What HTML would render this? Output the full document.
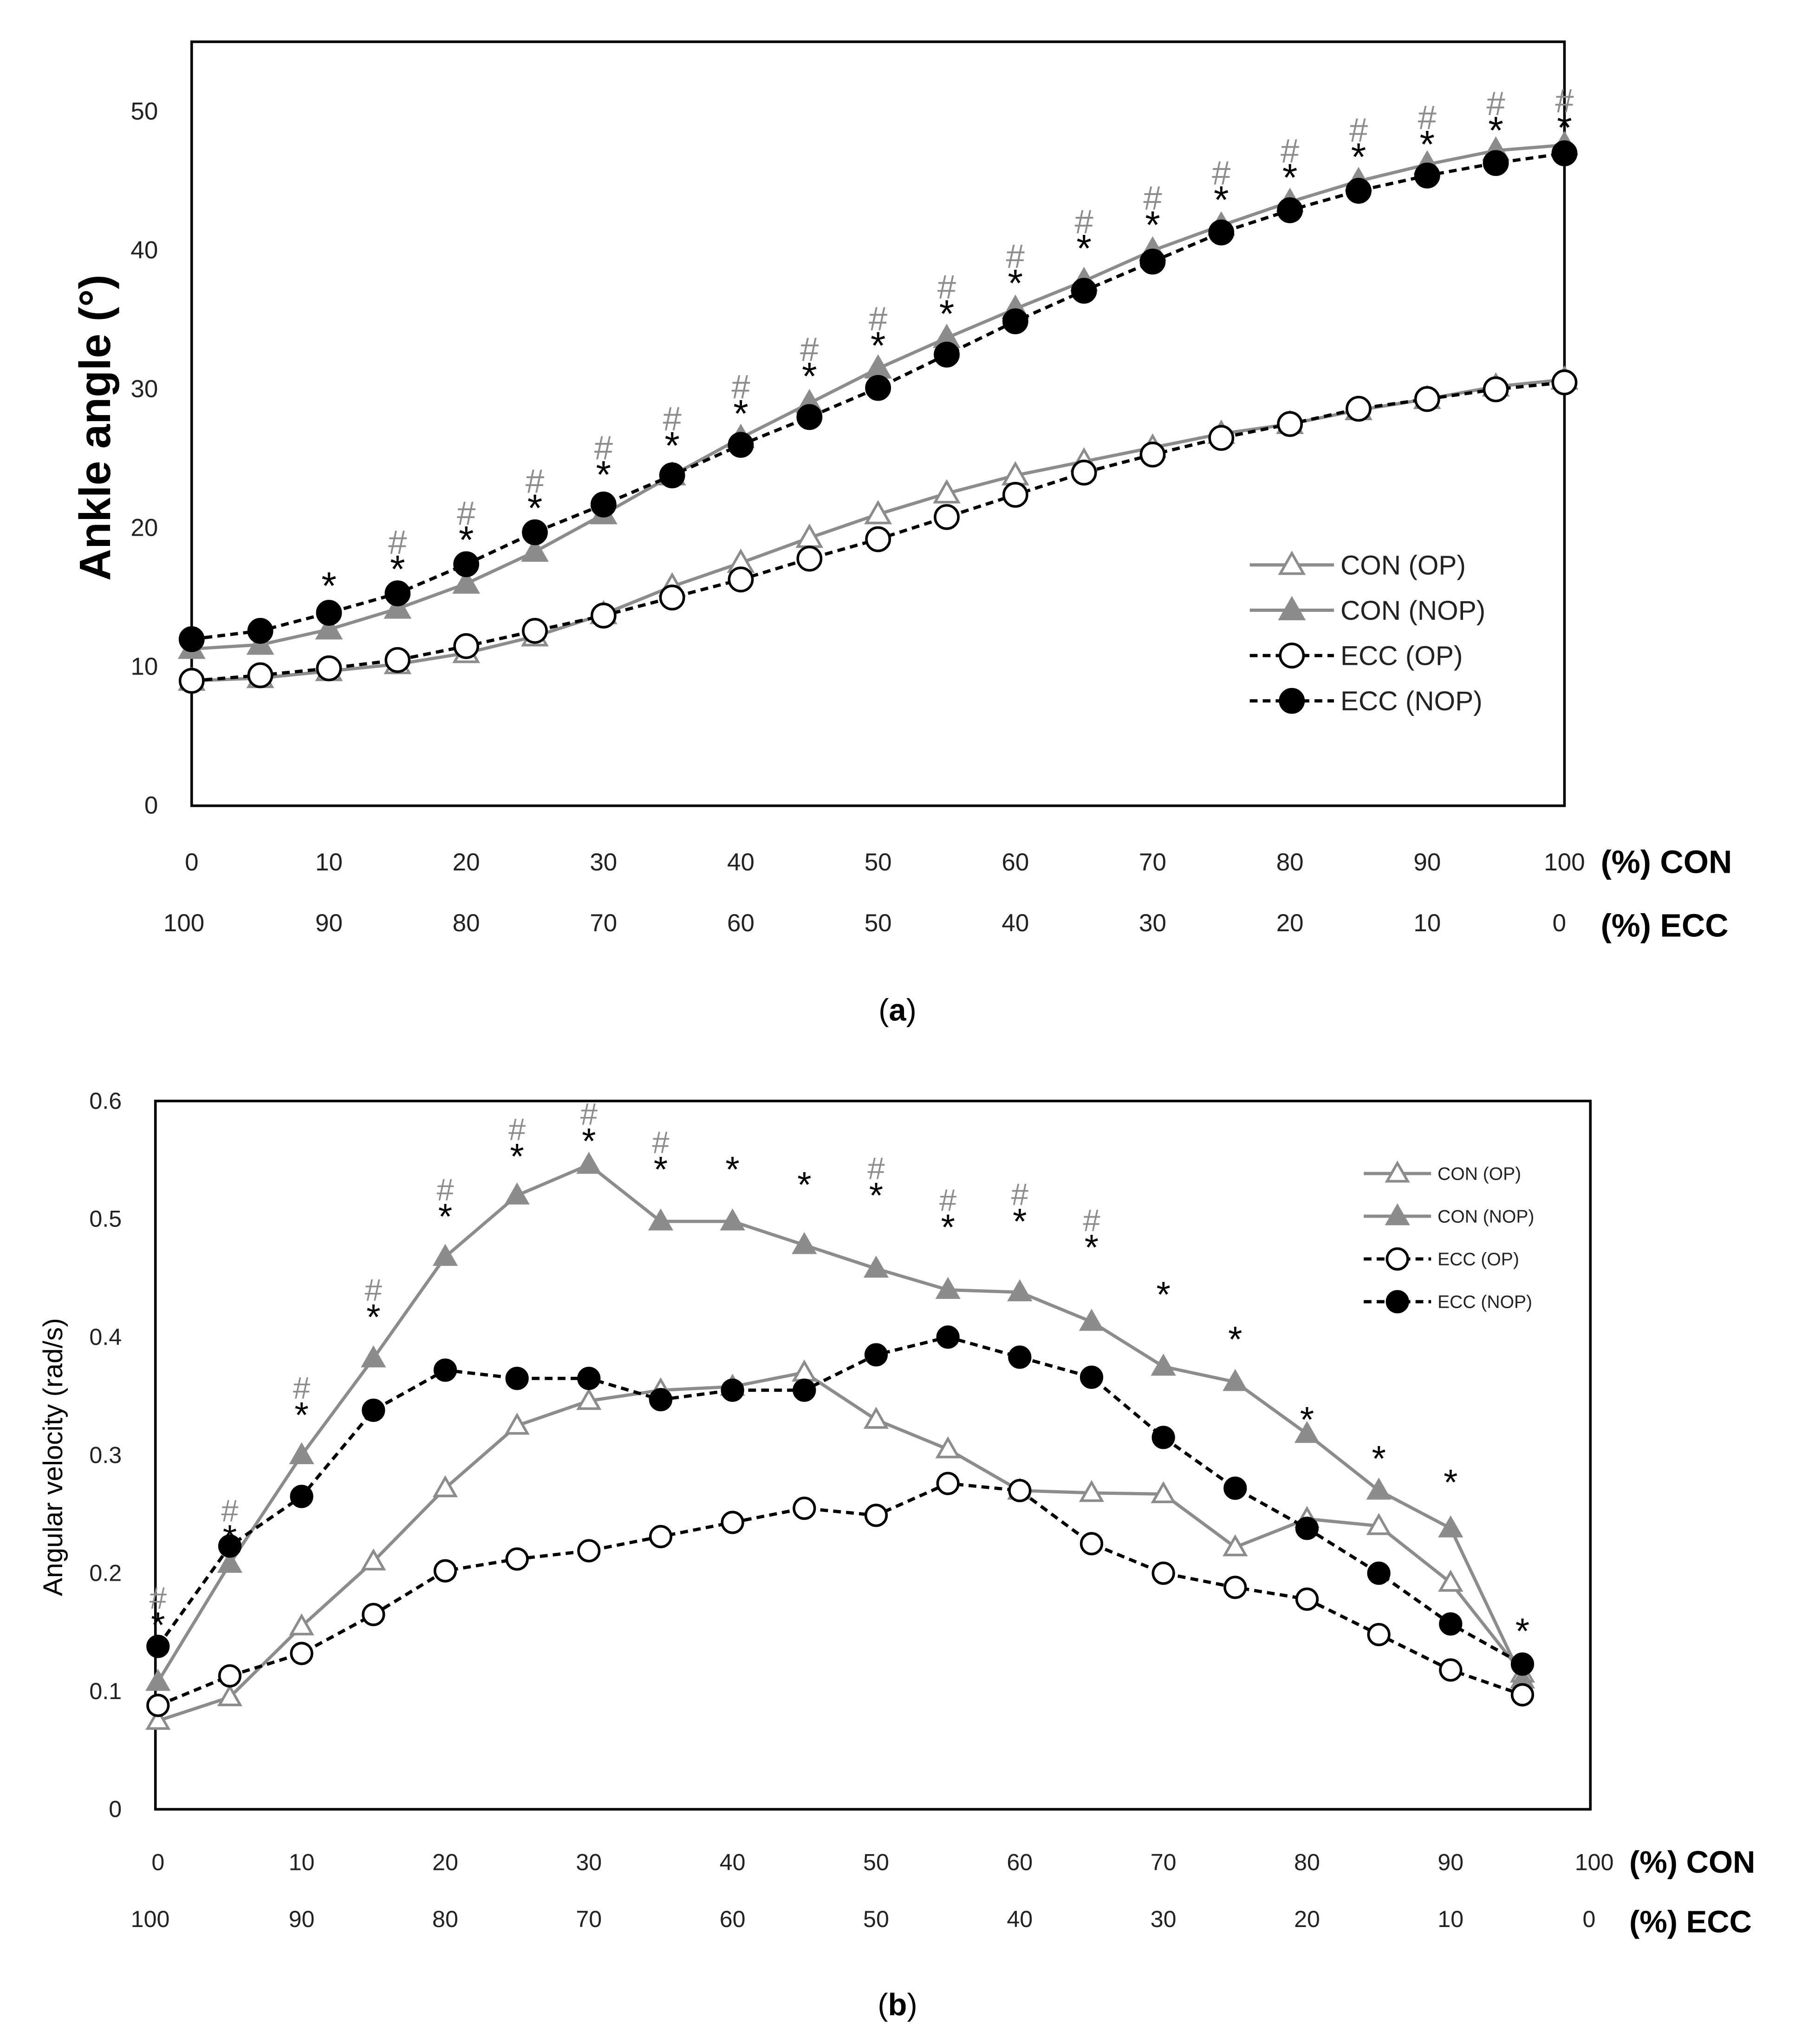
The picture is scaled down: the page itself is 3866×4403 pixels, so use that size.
<!DOCTYPE html>
<html><head><meta charset="utf-8">
<style>
html,body{margin:0;padding:0;background:#fff;}
svg{display:block;}
text{font-family:"Liberation Sans",sans-serif;}
</style></head>
<body>
<svg id="svg" width="3866" height="4403" viewBox="0 0 1386 1578" xmlns="http://www.w3.org/2000/svg">
<g id="ca"></g>
<g id="cb"></g>
<text x="693" y="788" font-family="Liberation Serif" font-size="24" text-anchor="middle">(<tspan font-weight="bold">a</tspan>)</text>
<text x="693" y="1556" font-family="Liberation Serif" font-size="24" text-anchor="middle">(<tspan font-weight="bold">b</tspan>)</text>
</svg>
<script>
const NS='http://www.w3.org/2000/svg';
// ---- Chart A data ----
const aX=[0,5,10,15,20,25,30,35,40,45,50,55,60,65,70,75,80,85,90,95,100];
const aConOp=[9,9.2,9.7,10.2,11,12.2,13.8,15.8,17.5,19.3,21,22.5,23.8,24.8,25.8,26.8,27.5,28.5,29.3,30.2,30.7];
const aConNop=[11.3,11.6,12.7,14.2,16,18.3,21,23.8,26.5,29,31.5,33.7,35.8,37.8,40,41.8,43.5,45,46.2,47.2,47.6];
const aEccOp=[9,9.4,9.9,10.5,11.5,12.6,13.7,15,16.3,17.8,19.2,20.8,22.4,24,25.3,26.5,27.5,28.6,29.3,30,30.5];
const aEccNop=[12,12.6,13.9,15.3,17.4,19.7,21.7,23.8,26,28,30.1,32.5,34.9,37.1,39.2,41.3,42.9,44.3,45.4,46.3,47];
const aStarX=[10,15,20,25,30,35,40,45,50,55,60,65,70,75,80,85,90,95,100];
const aStarY=[16.2,17.4,19.5,21.8,24.2,26.3,28.6,31.3,33.5,35.8,38,40.5,42.2,44,45.6,47.1,48,49,49.2];
const aHashX=[15,20,25,30,35,40,45,50,55,60,65,70,75,80,85,90,95,100];
const aYTicks=[0,10,20,30,40,50];
const aXTicksCon=['0','10','20','30','40','50','60','70','80','90','100'];
const aXTicksEcc=['100','90','80','70','60','50','40','30','20','10','0'];
// ---- Chart B data ----
const bX=[0,5,10,15,20,25,30,35,40,45,50,55,60,65,70,75,80,85,90,95];
const bConOp=[.075,.095,.155,.21,.272,.325,.346,.355,.358,.37,.33,.305,.27,.268,.267,.222,.246,.24,.192,.115];
const bConNop=[.108,.208,.3,.382,.468,.52,.546,.498,.498,.478,.458,.44,.438,.413,.375,.362,.318,.27,.238,.11];
const bEccOp=[.088,.113,.132,.165,.202,.212,.219,.231,.243,.255,.249,.276,.27,.225,.2,.188,.178,.148,.118,.097];
const bEccNop=[.138,.223,.265,.338,.372,.365,.365,.347,.355,.355,.385,.4,.383,.366,.315,.272,.238,.2,.157,.123];
const bStarY=[.161,.235,.339,.422,.507,.558,.571,.547,.547,.534,.525,.498,.503,.481,.441,.403,.335,.302,.282,.156];
const bHashX=[0,5,10,15,20,25,30,35,50,55,60,65];
const bYTicks=[0,0.1,0.2,0.3,0.4,0.5,0.6];
const bXTicksCon=['0','10','20','30','40','50','60','70','80','90','100'];
const bXTicksEcc=['100','90','80','70','60','50','40','30','20','10','0'];

function mk(p,tag,at,txt){const e=document.createElementNS(NS,tag);for(const k in at)e.setAttribute(k,at[k]);if(txt!==undefined)e.textContent=txt;p.appendChild(e);return e;}
const GR='#8c8c8c';

function chart(g,cfg){
  const xs=v=>cfg.x0+(v/100)*(cfg.x1-cfg.x0);
  const ys=v=>cfg.yb-(v/cfg.ymax)*(cfg.yb-cfg.yt);
  const r=mk(g,'rect',{x:cfg.bx0,y:cfg.yt,width:cfg.bx1-cfg.bx0,height:cfg.yb-cfg.yt,fill:'none',stroke:'#000','stroke-width':2});
  
  cfg.yTicks.forEach(t=>{const e=mk(g,'text',{x:cfg.bx0-26,y:ys(t)+6,'font-size':cfg.fs,'text-anchor':'end',fill:'#222'},String(t));
    });
  cfg.xCon.forEach((t,i)=>{const e=mk(g,'text',{x:xs(i*10),y:cfg.row1,'font-size':cfg.fs,'text-anchor':'middle',fill:'#222'},t);
    });
  cfg.xEcc.forEach((t,i)=>{const e=mk(g,'text',{x:xs(i*10)-(i==0?6:0)+(i==10?-4:0),y:cfg.row2,'font-size':cfg.fs,'text-anchor':'middle',fill:'#222'},t);
    });
  let e=mk(g,'text',{x:cfg.pctX,y:cfg.row1+2,'font-size':cfg.fs+6,'font-weight':'bold'},'(%)  CON');
  
  e=mk(g,'text',{x:cfg.pctX,y:cfg.row2+4,'font-size':cfg.fs+6,'font-weight':'bold'},'(%)  ECC');
  
  e=mk(g,'text',{transform:`translate(${cfg.ylx},${cfg.yly}) rotate(-90)`,'font-size':cfg.ylfs,'font-weight':cfg.ylw,'text-anchor':'middle'},cfg.ylabel);
  
  const series=[
    {d:cfg.s[0],col:GR,dash:'',m:'tri',fill:'#fff',n:'series-con-op'},
    {d:cfg.s[1],col:GR,dash:'',m:'tri',fill:GR,n:'series-con-nop'},
    {d:cfg.s[2],col:'#000',dash:'6,4',m:'cir',fill:'#fff',n:'series-ecc-op'},
    {d:cfg.s[3],col:'#000',dash:'6,4',m:'cir',fill:'#000',n:'series-ecc-nop'}];
  series.forEach(s=>{
    const sg=mk(g,'g',{});
    const pts=s.d.map((v,i)=>xs(cfg.xv[i])+','+ys(v)).join(' ');
    const pl=mk(sg,'polyline',{points:pts,fill:'none',stroke:s.col,'stroke-width':2.5,'stroke-dasharray':s.dash});
    
    s.d.forEach((v,i)=>{const cx=xs(cfg.xv[i]),cy=ys(v);marker(sg,s.m,cx,cy,cfg.ms,s.col,s.fill);});
  });
  cfg.starX.forEach((x,i)=>{const e=mk(g,'text',{x:xs(x),y:ys(cfg.starY[i])+14,'font-size':cfg.starFs,'text-anchor':'middle'},'*');
    });
  cfg.hashX.forEach(x=>{const i=cfg.starX.indexOf(x);const e=mk(g,'text',{x:xs(x),y:ys(cfg.starY[i])-8,'font-size':cfg.hashFs,'text-anchor':'middle',fill:GR},'#');
    });
  // legend
  const names=['CON (OP)','CON (NOP)','ECC (OP)','ECC (NOP)'];
  names.forEach((n,i)=>{const s=series[i];const y=cfg.lg.y+i*cfg.lg.dy;
    const lg=mk(g,'g',{});
    mk(lg,'line',{x1:cfg.lg.x0,x2:cfg.lg.x1,y1:y,y2:y,stroke:s.col,'stroke-width':2.5,'stroke-dasharray':s.dash});
    marker(lg,s.m,(cfg.lg.x0+cfg.lg.x1)/2,y,cfg.ms,s.col,s.fill);
    mk(lg,'text',{x:cfg.lg.x1+5,y:y+cfg.lg.fs*0.35,'font-size':cfg.lg.fs,fill:'#222'},n);
  });
}
function marker(p,m,cx,cy,ms,col,fill){
  let e;
  if(m=='tri'){e=mk(p,'polygon',{points:`${cx},${cy-ms} ${cx-ms},${cy+ms*0.75} ${cx+ms},${cy+ms*0.75}`,fill:fill,stroke:col,'stroke-width':2});}
  else{e=mk(p,'circle',{cx:cx,cy:cy,r:ms,fill:fill,stroke:'#000','stroke-width':2});}
  
}
chart(document.getElementById('ca'),{x0:148,x1:1208,bx0:148,bx1:1208,yt:32,yb:622,ymax:50*(622-32)/(622-86),
  yTicks:aYTicks,xCon:aXTicksCon,xEcc:aXTicksEcc,row1:672,row2:719,pctX:1236,fs:19,
  ylx:85,yly:330,ylfs:34,ylw:'bold',ylabel:'Ankle angle (°)',s:[aConOp,aConNop,aEccOp,aEccNop],xv:aX,ms:9,
  starX:aStarX,starY:aStarY,hashX:aHashX,starFs:30,hashFs:26,lg:{x0:965,x1:1030,y:436,dy:35,fs:21}});
chart(document.getElementById('cb'),{x0:122,x1:1231,bx0:120,bx1:1228,yt:850,yb:1397,ymax:0.6,
  yTicks:bYTicks,xCon:bXTicksCon,xEcc:bXTicksEcc,row1:1444,row2:1488,pctX:1258,fs:18,
  ylx:48,yly:1125,ylfs:21,ylw:'normal',ylabel:'Angular velocity (rad/s)',s:[bConOp,bConNop,bEccOp,bEccNop],xv:bX,ms:8,
  starX:bX,starY:bStarY,hashX:bHashX,starFs:28,hashFs:24,lg:{x0:1053,x1:1105,y:906,dy:33,fs:14}});
</script>
</body></html>
